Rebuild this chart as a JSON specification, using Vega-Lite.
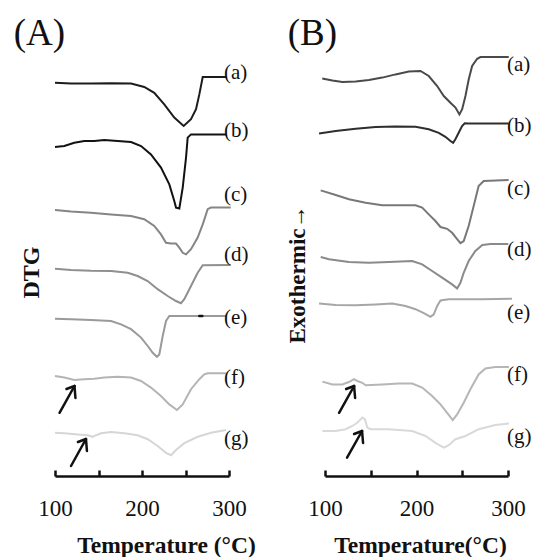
{
"$schema": "https://vega.github.io/schema/vega-lite/v6.json",
"background": "white",
"padding": {"left": 13, "top": 14, "right": 0, "bottom": 0},
"config": {"view": {"stroke": null}, "font": "Liberation Serif"},
"spacing": 96,
"bounds": "flush",
"datasets": {
"curves": [
{"panel":"A","curve":"Aa","T":100,"s":98.3},{"panel":"A","curve":"Aa","T":118.4,"s":98.1},{"panel":"A","curve":"Aa","T":141.4,"s":98.1},{"panel":"A","curve":"Aa","T":164.4,"s":98.2},{"panel":"A","curve":"Aa","T":187.4,"s":98.1},{"panel":"A","curve":"Aa","T":202.6,"s":97.25},{"panel":"A","curve":"Aa","T":214.1,"s":95.8},{"panel":"A","curve":"Aa","T":225.6,"s":92.9},{"panel":"A","curve":"Aa","T":237.1,"s":89.6},{"panel":"A","curve":"Aa","T":247.9,"s":87.5},{"panel":"A","curve":"Aa","T":256.3,"s":89.2},{"panel":"A","curve":"Aa","T":262.1,"s":91.7},{"panel":"A","curve":"Aa","T":265.9,"s":95.4},{"panel":"A","curve":"Aa","T":269.8,"s":99.75},{"panel":"A","curve":"Aa","T":297,"s":99.75},
{"panel":"A","curve":"Ab","T":100,"s":82.25},{"panel":"A","curve":"Ab","T":110.7,"s":82.5},{"panel":"A","curve":"Ab","T":122.2,"s":83.3},{"panel":"A","curve":"Ab","T":133.7,"s":83.75},{"panel":"A","curve":"Ab","T":145.2,"s":83.75},{"panel":"A","curve":"Ab","T":156.7,"s":84},{"panel":"A","curve":"Ab","T":172.1,"s":83.75},{"panel":"A","curve":"Ab","T":187.4,"s":83.5},{"panel":"A","curve":"Ab","T":198.9,"s":82.5},{"panel":"A","curve":"Ab","T":210.3,"s":80.4},{"panel":"A","curve":"Ab","T":221.8,"s":77.1},{"panel":"A","curve":"Ab","T":231.4,"s":72.9},{"panel":"A","curve":"Ab","T":237.1,"s":68.75},{"panel":"A","curve":"Ab","T":239.1,"s":67.1},{"panel":"A","curve":"Ab","T":242.9,"s":66.9},{"panel":"A","curve":"Ab","T":246.8,"s":72.1},{"panel":"A","curve":"Ab","T":250.6,"s":79.6},{"panel":"A","curve":"Ab","T":252.5,"s":84.6},{"panel":"A","curve":"Ab","T":256.3,"s":85.4},{"panel":"A","curve":"Ab","T":297,"s":85.4},
{"panel":"A","curve":"Ac","T":100,"s":66.5},{"panel":"A","curve":"Ac","T":118.4,"s":66.1},{"panel":"A","curve":"Ac","T":141.4,"s":65.8},{"panel":"A","curve":"Ac","T":164.4,"s":65.4},{"panel":"A","curve":"Ac","T":187.4,"s":65},{"panel":"A","curve":"Ac","T":202.6,"s":64.2},{"panel":"A","curve":"Ac","T":214.1,"s":62.5},{"panel":"A","curve":"Ac","T":221.8,"s":60.4},{"panel":"A","curve":"Ac","T":227.6,"s":58.3},{"panel":"A","curve":"Ac","T":233.3,"s":58.1},{"panel":"A","curve":"Ac","T":239.1,"s":58.1},{"panel":"A","curve":"Ac","T":242.9,"s":57.1},{"panel":"A","curve":"Ac","T":246.8,"s":55.8},{"panel":"A","curve":"Ac","T":250.6,"s":55.4},{"panel":"A","curve":"Ac","T":256.3,"s":56.7},{"panel":"A","curve":"Ac","T":264,"s":59.6},{"panel":"A","curve":"Ac","T":269.8,"s":62.9},{"panel":"A","curve":"Ac","T":275.5,"s":66.7},{"panel":"A","curve":"Ac","T":279.3,"s":67.1},{"panel":"A","curve":"Ac","T":302,"s":67.1},
{"panel":"A","curve":"Ad","T":100,"s":51.8},{"panel":"A","curve":"Ad","T":118.4,"s":51.5},{"panel":"A","curve":"Ad","T":141.4,"s":51.3},{"panel":"A","curve":"Ad","T":164.4,"s":51.25},{"panel":"A","curve":"Ad","T":183.6,"s":50.8},{"panel":"A","curve":"Ad","T":195,"s":50},{"panel":"A","curve":"Ad","T":206.5,"s":48.75},{"panel":"A","curve":"Ad","T":218,"s":46.7},{"panel":"A","curve":"Ad","T":229.5,"s":45},{"panel":"A","curve":"Ad","T":239.1,"s":43.75},{"panel":"A","curve":"Ad","T":244.8,"s":43.2},{"panel":"A","curve":"Ad","T":248.6,"s":44.2},{"panel":"A","curve":"Ad","T":256.3,"s":47.5},{"panel":"A","curve":"Ad","T":264,"s":50.8},{"panel":"A","curve":"Ad","T":269.8,"s":52.7},{"panel":"A","curve":"Ad","T":302,"s":52.75},
{"panel":"A","curve":"Ae","T":100,"s":39.3},{"panel":"A","curve":"Ae","T":118.4,"s":39.2},{"panel":"A","curve":"Ae","T":141.4,"s":39},{"panel":"A","curve":"Ae","T":164.4,"s":38.75},{"panel":"A","curve":"Ae","T":175.9,"s":37.9},{"panel":"A","curve":"Ae","T":187.4,"s":36.7},{"panel":"A","curve":"Ae","T":198.9,"s":34.6},{"panel":"A","curve":"Ae","T":206.6,"s":32.5},{"panel":"A","curve":"Ae","T":212.3,"s":30.8},{"panel":"A","curve":"Ae","T":217.2,"s":29.8},{"panel":"A","curve":"Ae","T":219.9,"s":30.4},{"panel":"A","curve":"Ae","T":223.8,"s":35},{"panel":"A","curve":"Ae","T":227.6,"s":38.75},{"panel":"A","curve":"Ae","T":231.4,"s":40},{"panel":"A","curve":"Ae","T":267.8,"s":40},{"panel":"A","curve":"Ae","T":297,"s":40},
{"panel":"A","curve":"Af","T":100,"s":25},{"panel":"A","curve":"Af","T":110.7,"s":24.6},{"panel":"A","curve":"Af","T":122.2,"s":24},{"panel":"A","curve":"Af","T":133.7,"s":24.2},{"panel":"A","curve":"Af","T":145.2,"s":24.3},{"panel":"A","curve":"Af","T":156.7,"s":24.6},{"panel":"A","curve":"Af","T":172.1,"s":24.8},{"panel":"A","curve":"Af","T":187.4,"s":24.6},{"panel":"A","curve":"Af","T":198.9,"s":23.75},{"panel":"A","curve":"Af","T":210.3,"s":22.1},{"panel":"A","curve":"Af","T":221.8,"s":20},{"panel":"A","curve":"Af","T":231.4,"s":17.9},{"panel":"A","curve":"Af","T":240.2,"s":16.5},{"panel":"A","curve":"Af","T":246.8,"s":17.9},{"panel":"A","curve":"Af","T":256.3,"s":21.7},{"panel":"A","curve":"Af","T":265.9,"s":24.2},{"panel":"A","curve":"Af","T":271.6,"s":25.4},{"panel":"A","curve":"Af","T":275.5,"s":25.7},{"panel":"A","curve":"Af","T":297,"s":25.7},
{"panel":"A","curve":"Ag","T":100,"s":10.8},{"panel":"A","curve":"Ag","T":110.7,"s":10.7},{"panel":"A","curve":"Ag","T":126.1,"s":10.4},{"panel":"A","curve":"Ag","T":137.6,"s":10.2},{"panel":"A","curve":"Ag","T":143.4,"s":9.8},{"panel":"A","curve":"Ag","T":147.1,"s":10.2},{"panel":"A","curve":"Ag","T":152.9,"s":10.7},{"panel":"A","curve":"Ag","T":164.4,"s":11},{"panel":"A","curve":"Ag","T":179.7,"s":10.7},{"panel":"A","curve":"Ag","T":195,"s":10.2},{"panel":"A","curve":"Ag","T":206.6,"s":9.2},{"panel":"A","curve":"Ag","T":218,"s":7.5},{"panel":"A","curve":"Ag","T":227.6,"s":5.8},{"panel":"A","curve":"Ag","T":233.3,"s":5.2},{"panel":"A","curve":"Ag","T":239.1,"s":6.5},{"panel":"A","curve":"Ag","T":248.6,"s":8.2},{"panel":"A","curve":"Ag","T":264,"s":9.8},{"panel":"A","curve":"Ag","T":279.3,"s":10.8},{"panel":"A","curve":"Ag","T":296.6,"s":11.5},
{"panel":"B","curve":"Ba","T":97,"s":99.4},{"panel":"B","curve":"Ba","T":108.1,"s":98.9},{"panel":"B","curve":"Ba","T":119,"s":98.5},{"panel":"B","curve":"Ba","T":133.5,"s":98.6},{"panel":"B","curve":"Ba","T":148,"s":99},{"panel":"B","curve":"Ba","T":162.6,"s":99.6},{"panel":"B","curve":"Ba","T":177.1,"s":100.4},{"panel":"B","curve":"Ba","T":191.6,"s":101.1},{"panel":"B","curve":"Ba","T":204.4,"s":101.25},{"panel":"B","curve":"Ba","T":213.4,"s":100},{"panel":"B","curve":"Ba","T":222.6,"s":97.5},{"panel":"B","curve":"Ba","T":229.8,"s":95},{"panel":"B","curve":"Ba","T":237.1,"s":93.3},{"panel":"B","curve":"Ba","T":242.6,"s":92.1},{"panel":"B","curve":"Ba","T":246.9,"s":90.4},{"panel":"B","curve":"Ba","T":249.9,"s":91.7},{"panel":"B","curve":"Ba","T":253.5,"s":95},{"panel":"B","curve":"Ba","T":257.1,"s":99.2},{"panel":"B","curve":"Ba","T":260.8,"s":102.5},{"panel":"B","curve":"Ba","T":266.3,"s":104.3},{"panel":"B","curve":"Ba","T":269.9,"s":104.75},{"panel":"B","curve":"Ba","T":300.8,"s":104.75},
{"panel":"B","curve":"Bb","T":93.5,"s":85.6},{"panel":"B","curve":"Bb","T":111.7,"s":86.25},{"panel":"B","curve":"Bb","T":133.5,"s":86.8},{"panel":"B","curve":"Bb","T":155.3,"s":87.25},{"panel":"B","curve":"Bb","T":177.1,"s":87.4},{"panel":"B","curve":"Bb","T":198.9,"s":87.3},{"panel":"B","curve":"Bb","T":213.4,"s":86.7},{"panel":"B","curve":"Bb","T":224.3,"s":85.8},{"panel":"B","curve":"Bb","T":231.6,"s":84.8},{"panel":"B","curve":"Bb","T":237.1,"s":83.75},{"panel":"B","curve":"Bb","T":240,"s":83.3},{"panel":"B","curve":"Bb","T":242.5,"s":84.2},{"panel":"B","curve":"Bb","T":246.1,"s":85.8},{"panel":"B","curve":"Bb","T":249.8,"s":87.5},{"panel":"B","curve":"Bb","T":252.7,"s":88.2},{"panel":"B","curve":"Bb","T":257,"s":88.1},{"panel":"B","curve":"Bb","T":300.7,"s":88.1},
{"panel":"B","curve":"Bc","T":95.3,"s":71.4},{"panel":"B","curve":"Bc","T":111.7,"s":70.25},{"panel":"B","curve":"Bc","T":126.2,"s":69.2},{"panel":"B","curve":"Bc","T":144.4,"s":68.3},{"panel":"B","curve":"Bc","T":162.6,"s":67.7},{"panel":"B","curve":"Bc","T":180.7,"s":67.7},{"panel":"B","curve":"Bc","T":198.9,"s":67.7},{"panel":"B","curve":"Bc","T":206.2,"s":67.1},{"panel":"B","curve":"Bc","T":213.4,"s":65.4},{"panel":"B","curve":"Bc","T":220.7,"s":63.75},{"panel":"B","curve":"Bc","T":226.2,"s":62.25},{"panel":"B","curve":"Bc","T":233.5,"s":61.8},{"panel":"B","curve":"Bc","T":238.9,"s":60.8},{"panel":"B","curve":"Bc","T":244.4,"s":59.2},{"panel":"B","curve":"Bc","T":248,"s":58.2},{"panel":"B","curve":"Bc","T":251.6,"s":58.75},{"panel":"B","curve":"Bc","T":257,"s":62.5},{"panel":"B","curve":"Bc","T":262.5,"s":67.5},{"panel":"B","curve":"Bc","T":267.9,"s":72.5},{"panel":"B","curve":"Bc","T":273.4,"s":73.75},{"panel":"B","curve":"Bc","T":300.7,"s":74},
{"panel":"B","curve":"Bd","T":95.3,"s":54.75},{"panel":"B","curve":"Bd","T":104.4,"s":54.2},{"panel":"B","curve":"Bd","T":126.2,"s":53.5},{"panel":"B","curve":"Bd","T":148,"s":53.3},{"panel":"B","curve":"Bd","T":169.8,"s":53.5},{"panel":"B","curve":"Bd","T":195.3,"s":53.75},{"panel":"B","curve":"Bd","T":206.2,"s":52.9},{"panel":"B","curve":"Bd","T":217.1,"s":51.25},{"panel":"B","curve":"Bd","T":228,"s":49.6},{"panel":"B","curve":"Bd","T":238.9,"s":47.9},{"panel":"B","curve":"Bd","T":244.4,"s":46.9},{"panel":"B","curve":"Bd","T":248,"s":48.3},{"panel":"B","curve":"Bd","T":251.6,"s":50.8},{"panel":"B","curve":"Bd","T":257,"s":53.75},{"panel":"B","curve":"Bd","T":264.3,"s":56.25},{"panel":"B","curve":"Bd","T":272,"s":57.75},{"panel":"B","curve":"Bd","T":280.7,"s":58},{"panel":"B","curve":"Bd","T":300.3,"s":58},
{"panel":"B","curve":"Be","T":93.5,"s":43.1},{"panel":"B","curve":"Be","T":111.7,"s":42.75},{"panel":"B","curve":"Be","T":133.5,"s":42.7},{"panel":"B","curve":"Be","T":155.3,"s":42.9},{"panel":"B","curve":"Be","T":173.5,"s":43.1},{"panel":"B","curve":"Be","T":188,"s":42.5},{"panel":"B","curve":"Be","T":198.9,"s":41.7},{"panel":"B","curve":"Be","T":208,"s":40.7},{"panel":"B","curve":"Be","T":215.3,"s":39.8},{"panel":"B","curve":"Be","T":218.9,"s":40.4},{"panel":"B","curve":"Be","T":222.6,"s":42.5},{"panel":"B","curve":"Be","T":226.2,"s":43.9},{"panel":"B","curve":"Be","T":235.2,"s":44.2},{"panel":"B","curve":"Be","T":271.6,"s":44.2},{"panel":"B","curve":"Be","T":304.3,"s":44.3},
{"panel":"B","curve":"Bf","T":97.2,"s":23.6},{"panel":"B","curve":"Bf","T":108.1,"s":22.9},{"panel":"B","curve":"Bf","T":119,"s":22.9},{"panel":"B","curve":"Bf","T":126.2,"s":23.5},{"panel":"B","curve":"Bf","T":131.6,"s":24.2},{"panel":"B","curve":"Bf","T":135.3,"s":23.75},{"panel":"B","curve":"Bf","T":140.8,"s":23.3},{"panel":"B","curve":"Bf","T":144.4,"s":22.7},{"panel":"B","curve":"Bf","T":162.6,"s":22.9},{"panel":"B","curve":"Bf","T":180.7,"s":23.1},{"panel":"B","curve":"Bf","T":195.3,"s":23.1},{"panel":"B","curve":"Bf","T":206.2,"s":22.1},{"panel":"B","curve":"Bf","T":217.1,"s":20},{"panel":"B","curve":"Bf","T":226.2,"s":17.9},{"panel":"B","curve":"Bf","T":233.5,"s":15.8},{"panel":"B","curve":"Bf","T":239.6,"s":14},{"panel":"B","curve":"Bf","T":244.4,"s":15.4},{"panel":"B","curve":"Bf","T":251.6,"s":18.3},{"panel":"B","curve":"Bf","T":258.9,"s":21.7},{"panel":"B","curve":"Bf","T":267.9,"s":25.4},{"panel":"B","curve":"Bf","T":275.3,"s":26.9},{"panel":"B","curve":"Bf","T":286.1,"s":27.25},{"panel":"B","curve":"Bf","T":301,"s":27.25},
{"panel":"B","curve":"Bg","T":97.2,"s":11.25},{"panel":"B","curve":"Bg","T":111.7,"s":11.25},{"panel":"B","curve":"Bg","T":122.6,"s":11.7},{"panel":"B","curve":"Bg","T":129.9,"s":12.5},{"panel":"B","curve":"Bg","T":135.3,"s":13.3},{"panel":"B","curve":"Bg","T":140.8,"s":14.6},{"panel":"B","curve":"Bg","T":143.6,"s":14.2},{"panel":"B","curve":"Bg","T":146.2,"s":12.1},{"panel":"B","curve":"Bg","T":149.8,"s":11.7},{"panel":"B","curve":"Bg","T":169.8,"s":11.7},{"panel":"B","curve":"Bg","T":195.3,"s":11.25},{"panel":"B","curve":"Bg","T":209.8,"s":10},{"panel":"B","curve":"Bg","T":220.7,"s":8.3},{"panel":"B","curve":"Bg","T":229.8,"s":7.1},{"panel":"B","curve":"Bg","T":235.2,"s":7.7},{"panel":"B","curve":"Bg","T":242.5,"s":9.2},{"panel":"B","curve":"Bg","T":253.5,"s":10},{"panel":"B","curve":"Bg","T":268,"s":11.7},{"panel":"B","curve":"Bg","T":286.1,"s":12.75},{"panel":"B","curve":"Bg","T":301,"s":13.1}
],
"segments": [
{"panel":"A","T":105.2,"s":15.8,"T2":122.4,"s2":22.5},{"panel":"A","T":122.4,"s":22.5,"T2":113.2,"s2":21.75},{"panel":"A","T":122.4,"s":22.5,"T2":123.5,"s2":19.5},
{"panel":"A","T":118.4,"s":2.5,"T2":135.6,"s2":9.25},{"panel":"A","T":135.6,"s":9.25,"T2":126.4,"s2":8.5},{"panel":"A","T":135.6,"s":9.25,"T2":136.7,"s2":6.25},
{"panel":"A","T":265.9,"s":40,"T2":269.3,"s2":40},
{"panel":"B","T":115.4,"s":15.8,"T2":131.8,"s2":22.5},{"panel":"B","T":131.8,"s":22.5,"T2":123.1,"s2":21.75},{"panel":"B","T":131.8,"s":22.5,"T2":132.9,"s2":19.5},
{"panel":"B","T":124.1,"s":4.6,"T2":140.5,"s2":11.25},{"panel":"B","T":140.5,"s":11.25,"T2":131.8,"s2":10.5},{"panel":"B","T":140.5,"s":11.25,"T2":141.6,"s2":8.25}
],
"labels": [
{"panel":"A","label":"(a)","T":300,"s":100.75},{"panel":"A","label":"(b)","T":300,"s":86.25},{"panel":"A","label":"(c)","T":300,"s":70.25},{"panel":"A","label":"(d)","T":300,"s":55.25},{"panel":"A","label":"(e)","T":300,"s":39.5},{"panel":"A","label":"(f)","T":300,"s":24.5},{"panel":"A","label":"(g)","T":300,"s":9.25},
{"panel":"B","label":"(a)","T":300,"s":102.75},{"panel":"B","label":"(b)","T":300,"s":87.5},{"panel":"B","label":"(c)","T":300,"s":71.75},{"panel":"B","label":"(d)","T":300,"s":56.5},{"panel":"B","label":"(e)","T":300,"s":40.75},{"panel":"B","label":"(f)","T":300,"s":25.25},{"panel":"B","label":"(g)","T":300,"s":9.75}
],
"panels": [
{"panel":"A","label":"(A)","T":52.5,"s":107.75},
{"panel":"B","label":"(B)","T":59.3,"s":107.75}
]
},
"hconcat": [
{
"width": 174, "height": 425,
"layer": [
{"data": {"name": "curves"}, "transform": [{"filter": "datum.panel === 'A'"}],
"mark": {"type": "line", "strokeWidth": 2},
"encoding": {
"x": {"field": "T", "type": "quantitative", "scale": {"domain": [100, 300], "nice": false, "zero": false},
"axis": {"title": "Temperature (°C)", "values": [100, 150, 200, 250, 300], "labelExpr": "datum.value % 100 === 0 ? datum.label : ''", "grid": false, "domainColor": "#111", "domainWidth": 2.5, "tickColor": "#111", "tickWidth": 2.5, "tickSize": -6, "labelFont": "Liberation Serif", "labelFontSize": 23, "labelColor": "#111", "labelBaseline": "alphabetic", "labelPadding": 45, "labelFlush": false, "labelOverlap": false, "titleFont": "Liberation Serif", "titleFontSize": 23.5, "titleFontWeight": "bold", "titleColor": "#111", "titleX": 111, "titleY": 76, "titleBaseline": "alphabetic", "titleAlign": "center"}},
"y": {"field": "s", "type": "quantitative", "scale": {"domain": [0, 106.25], "nice": false, "zero": false},
"axis": {"title": "DTG", "labels": false, "ticks": false, "domain": false, "grid": false, "titleFont": "Liberation Serif", "titleFontSize": 24, "titleFontWeight": "bold", "titleColor": "#111", "titleX": -17, "titleY": 221, "titleAngle": -90, "titleAlign": "center", "titleBaseline": "alphabetic"}},
"color": {"field": "curve", "type": "nominal", "legend": null, "scale": {"domain": ["Aa","Ab","Ac","Ad","Ae","Af","Ag","Ba","Bb","Bc","Bd","Be","Bf","Bg"], "range": ["#1c1c1c","#121212","#858585","#8f8f8f","#9a9a9a","#b4b4b4","#d6d6d6","#4a4a4a","#2e2e2e","#787878","#8a8a8a","#a6a6a6","#b6b6b6","#d9d9d9"]}}
}},
{"data": {"name": "segments"}, "transform": [{"filter": "datum.panel === 'A'"}],
"mark": {"type": "rule", "strokeWidth": 2.5, "color": "#111", "strokeCap": "round"},
"encoding": {"x": {"field": "T", "type": "quantitative"}, "y": {"field": "s", "type": "quantitative"}, "x2": {"field": "T2"}, "y2": {"field": "s2"}}},
{"data": {"name": "labels"}, "transform": [{"filter": "datum.panel === 'A'"}],
"mark": {"type": "text", "align": "left", "baseline": "middle", "fontSize": 21, "font": "Liberation Serif", "dx": -5, "color": "#111"},
"encoding": {"x": {"field": "T", "type": "quantitative"}, "y": {"field": "s", "type": "quantitative"}, "text": {"field": "label"}}},
{"data": {"name": "panels"}, "transform": [{"filter": "datum.panel === 'A'"}],
"mark": {"type": "text", "align": "left", "baseline": "alphabetic", "fontSize": 37, "font": "Liberation Serif", "color": "#111"},
"encoding": {"x": {"field": "T", "type": "quantitative"}, "y": {"field": "s", "type": "quantitative"}, "text": {"field": "label"}}}
]
},
{
"width": 183, "height": 425,
"layer": [
{"data": {"name": "curves"}, "transform": [{"filter": "datum.panel === 'B'"}],
"mark": {"type": "line", "strokeWidth": 2},
"encoding": {
"x": {"field": "T", "type": "quantitative", "scale": {"domain": [100, 300], "nice": false, "zero": false},
"axis": {"title": "Temperature(°C)", "values": [100, 150, 200, 250, 300], "labelExpr": "datum.value % 100 === 0 ? datum.label : ''", "grid": false, "domainColor": "#111", "domainWidth": 2.5, "tickColor": "#111", "tickWidth": 2.5, "tickSize": -6, "labelFont": "Liberation Serif", "labelFontSize": 23, "labelColor": "#111", "labelBaseline": "alphabetic", "labelPadding": 45, "labelFlush": false, "labelOverlap": false, "titleFont": "Liberation Serif", "titleFontSize": 23.5, "titleFontWeight": "bold", "titleColor": "#111", "titleX": 95, "titleY": 76, "titleBaseline": "alphabetic", "titleAlign": "center"}},
"y": {"field": "s", "type": "quantitative", "scale": {"domain": [0, 106.25], "nice": false, "zero": false},
"axis": {"title": "Exothermic→", "labels": false, "ticks": false, "domain": false, "grid": false, "titleFont": "Liberation Serif", "titleFontSize": 23, "titleFontWeight": "bold", "titleColor": "#111", "titleX": -21, "titleY": 223, "titleAngle": -90, "titleAlign": "center", "titleBaseline": "alphabetic"}},
"color": {"field": "curve", "type": "nominal", "legend": null, "scale": {"domain": ["Aa","Ab","Ac","Ad","Ae","Af","Ag","Ba","Bb","Bc","Bd","Be","Bf","Bg"], "range": ["#1c1c1c","#121212","#858585","#8f8f8f","#9a9a9a","#b4b4b4","#d6d6d6","#4a4a4a","#2e2e2e","#787878","#8a8a8a","#a6a6a6","#b6b6b6","#d9d9d9"]}}
}},
{"data": {"name": "segments"}, "transform": [{"filter": "datum.panel === 'B'"}],
"mark": {"type": "rule", "strokeWidth": 2.5, "color": "#111", "strokeCap": "round"},
"encoding": {"x": {"field": "T", "type": "quantitative"}, "y": {"field": "s", "type": "quantitative"}, "x2": {"field": "T2"}, "y2": {"field": "s2"}}},
{"data": {"name": "labels"}, "transform": [{"filter": "datum.panel === 'B'"}],
"mark": {"type": "text", "align": "left", "baseline": "middle", "fontSize": 21, "font": "Liberation Serif", "dx": -1, "color": "#111"},
"encoding": {"x": {"field": "T", "type": "quantitative"}, "y": {"field": "s", "type": "quantitative"}, "text": {"field": "label"}}},
{"data": {"name": "panels"}, "transform": [{"filter": "datum.panel === 'B'"}],
"mark": {"type": "text", "align": "left", "baseline": "alphabetic", "fontSize": 37, "font": "Liberation Serif", "color": "#111"},
"encoding": {"x": {"field": "T", "type": "quantitative"}, "y": {"field": "s", "type": "quantitative"}, "text": {"field": "label"}}}
]
}
]
}
